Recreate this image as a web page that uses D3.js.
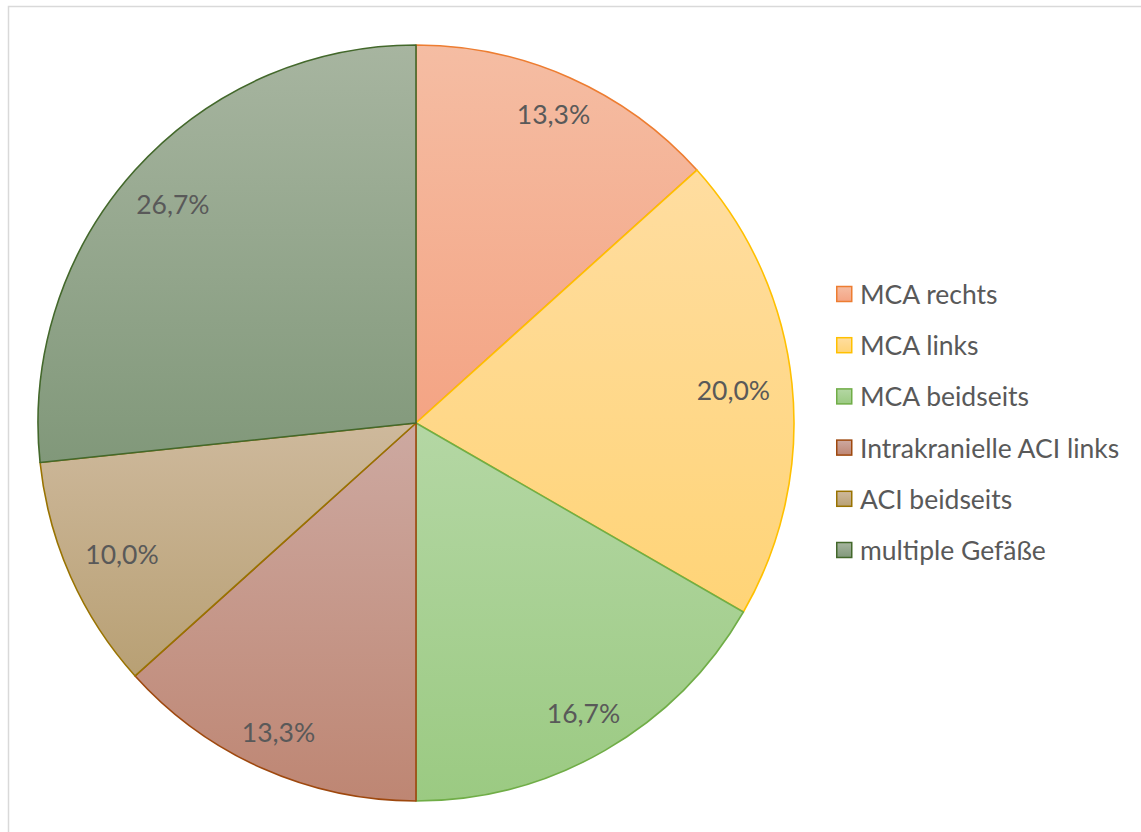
<!DOCTYPE html>
<html>
<head>
<meta charset="utf-8">
<script src="https://cdn.jsdelivr.net/npm/d3@7"></script>
<style>
  html, body { margin: 0; padding: 0; background: #fff; }
  svg { display: block; }
  text { font-family: Lato, "Open Sans", sans-serif; }
</style>
</head>
<body>
<svg id="chart" width="1141" height="832"></svg>
<script>
// Share of vessel territories (n = 30)
const categories = ["MCA rechts", "MCA links", "MCA beidseits", "Intrakranielle ACI links", "ACI beidseits", "multiple Gefäße"];
const counts = [4, 6, 5, 4, 3, 8];
const percentLabels = ["13,3%", "20,0%", "16,7%", "13,3%", "10,0%", "26,7%"];

// Slice styling: outline colour, gradient top and bottom colours
const outlineColors = ["#ED7D31", "#FFC000", "#70AD47", "#9E480E", "#997300", "#43682B"];
const topColors = ["#F5BDA3", "#FFDDA0", "#B4D7A4", "#CDA9A1", "#CEB99C", "#A7B5A0"];
const bottomColors = ["#F4A484", "#FFD477", "#9BCA82", "#BE8673", "#B8A074", "#81987A"];

const svg = d3.select("#chart");
const W = 1141, H = 832;

// Chart area frame (only top and left edges fall inside the view)
svg.append("rect")
  .attr("x", 8.5).attr("y", 6.5)
  .attr("width", W + 20).attr("height", H + 20)
  .attr("fill", "#fff")
  .attr("stroke", "#D9D9D9")
  .attr("stroke-width", 1.5);

const cx = 416, cy = 423, R = 378;

const defs = svg.append("defs");
categories.forEach((c, i) => {
  const g = defs.append("linearGradient")
    .attr("id", "grad" + i)
    .attr("x1", 0).attr("y1", 0).attr("x2", 0).attr("y2", 1);
  g.append("stop").attr("offset", "0%").attr("stop-color", topColors[i]);
  g.append("stop").attr("offset", "100%").attr("stop-color", bottomColors[i]);
});

const pie = d3.pie().sort(null).value(d => d);
const arcs = pie(counts);
const arc = d3.arc().innerRadius(0).outerRadius(R);

const gPie = svg.append("g").attr("transform", `translate(${cx},${cy})`);

gPie.selectAll("path.slice")
  .data(arcs)
  .join("path")
  .attr("class", "slice")
  .attr("d", arc)
  .attr("fill", (d, i) => `url(#grad${i})`)
  .attr("stroke", (d, i) => outlineColors[i])
  .attr("stroke-width", 1.6)
  .attr("stroke-linejoin", "round");

// Data labels placed just inside the rim, pulled in by the text width
const labelSize = 26.5;
const inset = 27, widthPull = 32;
gPie.selectAll("text.lbl")
  .data(arcs)
  .join("text")
  .attr("class", "lbl")
  .attr("text-anchor", "middle")
  .attr("dominant-baseline", "central")
  .attr("font-size", labelSize)
  .attr("fill", "#595959")
  .attr("transform", d => {
    const a = (d.startAngle + d.endAngle) / 2;
    const s = Math.sin(a), c = Math.cos(a);
    const r = R - inset - Math.abs(s) * widthPull;
    return `translate(${s * r},${-c * r})`;
  })
  .text((d, i) => percentLabels[i]);

// Legend
const legendX = 836, legendY0 = 294, legendStep = 51.2, box = 15;
const legend = svg.append("g");
const items = legend.selectAll("g")
  .data(categories)
  .join("g")
  .attr("transform", (d, i) => `translate(${legendX},${legendY0 + i * legendStep})`);

items.append("rect")
  .attr("x", 0.75).attr("y", -box / 2)
  .attr("width", box).attr("height", box)
  .attr("fill", (d, i) => `url(#grad${i})`)
  .attr("stroke", (d, i) => outlineColors[i])
  .attr("stroke-width", 1.5);

items.append("text")
  .attr("x", 24)
  .attr("y", 0)
  .attr("dominant-baseline", "central")
  .attr("font-size", 26.5)
  .attr("fill", "#595959")
  .text(d => d);
</script>
</body>
</html>
